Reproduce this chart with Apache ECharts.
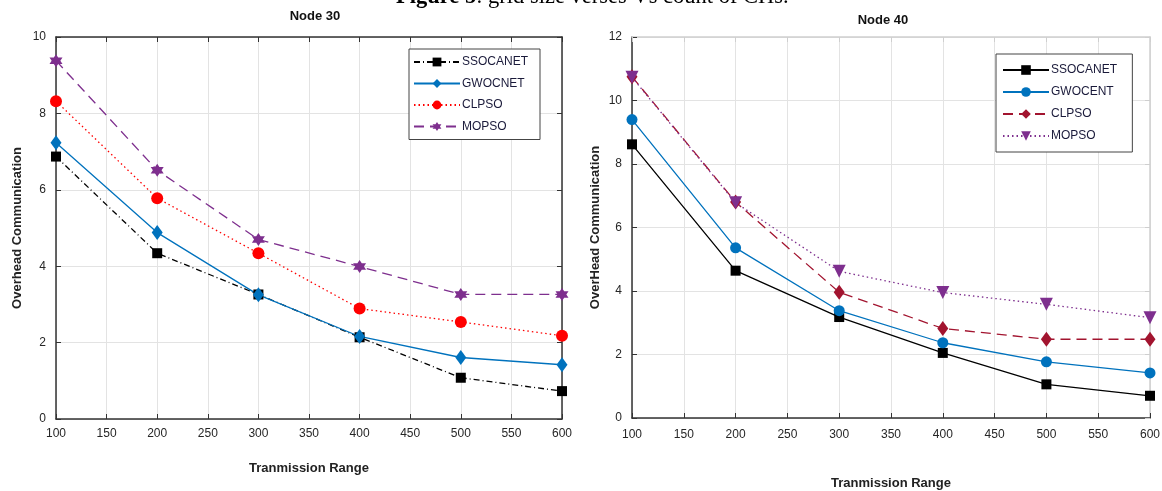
<!DOCTYPE html>
<html>
<head>
<meta charset="utf-8">
<script src="https://cdn.jsdelivr.net/npm/echarts@6/dist/echarts.min.js"></script>
<style>
html,body{margin:0;padding:0;background:#fff;}
#c{width:1162px;height:491px;}
</style>
</head>
<body>
<div id="c"></div>
<script>
// ---- data ----
const ranges = [100, 200, 300, 400, 500, 600];
const xTicks = [100, 150, 200, 250, 300, 350, 400, 450, 500, 550, 600];

// Node 30
const n30_SSOCANET = [6.87, 4.34, 3.26, 2.14, 1.08, 0.73];
const n30_GWOCNET  = [7.23, 4.88, 3.25, 2.16, 1.61, 1.42];
const n30_CLPSO    = [8.32, 5.78, 4.34, 2.89, 2.54, 2.18];
const n30_MOPSO    = [9.38, 6.51, 4.70, 3.99, 3.26, 3.26];

// Node 40
const n40_SSOCANET = [8.62, 4.64, 3.18, 2.05, 1.06, 0.70];
const n40_GWOCENT  = [9.40, 5.36, 3.38, 2.37, 1.77, 1.42];
const n40_CLPSO    = [10.75, 6.80, 3.96, 2.82, 2.48, 2.48];
const n40_MOPSO    = [10.73, 6.78, 4.62, 3.95, 3.58, 3.16];

const titles = ['Node 30', 'Node 40'];
const xName = 'Tranmission Range';
const yNames = ['Overhead Communication', 'OverHead Communication'];
const caption = 'grid size verses Vs count of CHs.';
const captionBold = 'Figure 5';

const pair = arr => arr.map((v, i) => [ranges[i], v]);

const hexagram = 'path://M0,-10 L2.9,-5 L8.66,-5 L5.8,0 L8.66,5 L2.9,5 L0,10 L-2.9,5 L-8.66,5 L-5.8,0 L-8.66,-5 L-2.9,-5 Z';

const chart = echarts.init(document.getElementById('c'));
const lblFont = {fontFamily: 'Liberation Sans, Arial, sans-serif', fontSize: 12, color: '#262626'};
const nameFont = {fontFamily: 'Liberation Sans, Arial, sans-serif', fontSize: 13, fontWeight: 'bold', color: '#222'};

function mkX(gi, bottomName, nameGap, boxColor, labelMargin) {
  return [
    {gridIndex: gi, type: 'value', min: 100, max: 600, interval: 50, position: 'bottom',
     name: bottomName, nameLocation: 'middle', nameGap: nameGap, nameTextStyle: nameFont,
     axisLine: {onZero: false, lineStyle: {color: '#333', width: 1.5}},
     axisTick: {inside: true, length: 5, lineStyle: {color: '#333'}},
     axisLabel: Object.assign({margin: labelMargin}, lblFont),
     splitLine: {show: true, lineStyle: {color: '#e3e3e3', width: 1}}},
    {gridIndex: gi, type: 'value', min: 100, max: 600, interval: 50, position: 'top',
     axisLine: {onZero: false, lineStyle: {color: boxColor, width: 1.5}},
     axisTick: {inside: true, length: 5, lineStyle: {color: boxColor}},
     axisLabel: {show: false}, splitLine: {show: false}}
  ];
}
function mkY(gi, max, yName, nameGap, boxColor) {
  return [
    {gridIndex: gi, type: 'value', min: 0, max: max, interval: 2, position: 'left',
     name: yName, nameLocation: 'middle', nameGap: nameGap, nameTextStyle: nameFont,
     axisLine: {show: true, onZero: false, lineStyle: {color: '#333', width: 1.5}},
     axisTick: {show: true, inside: true, length: 5, lineStyle: {color: '#333'}},
     axisLabel: Object.assign({margin: 10}, lblFont),
     splitLine: {show: true, lineStyle: {color: '#e3e3e3', width: 1}}},
    {gridIndex: gi, type: 'value', min: 0, max: max, interval: 2, position: 'right',
     axisLine: {show: true, onZero: false, lineStyle: {color: boxColor, width: 1.5}},
     axisTick: {show: true, inside: true, length: 5, lineStyle: {color: boxColor}},
     axisLabel: {show: false}, splitLine: {show: false}}
  ];
}

function ser(name, xi, yi, data, color, type, symbol, size, width) {
  return {name: name, type: 'line', xAxisIndex: xi, yAxisIndex: yi, data: pair(data),
    symbol: symbol, symbolSize: size, itemStyle: {color: color},
    lineStyle: {color: color, type: type, width: width || 1.3}, z: 3};
}

const option = {
  animation: false,
  backgroundColor: '#fff',
  title: [
    {text: titles[0], left: 310, top: 5, textAlign: 'center',
     textStyle: {fontFamily: 'Liberation Sans, Arial', fontSize: 13, fontWeight: 'bold', color: '#111'}},
    {text: titles[1], left: 878, top: 9, textAlign: 'center',
     textStyle: {fontFamily: 'Liberation Sans, Arial', fontSize: 13, fontWeight: 'bold', color: '#111'}}
  ],
  graphic: [{
    type: 'text', left: 396, top: -14,
    style: {
      text: '{b|' + captionBold + '}: ' + caption,
      font: '22.5px "Liberation Serif", "Times New Roman", serif',
      fill: '#000',
      rich: {b: {fontWeight: 'bold', fontFamily: 'Liberation Serif', fontSize: 22.5, fill: '#000'}}
    }
  }],
  grid: [
    {left: 56, right: 600, top: 37, bottom: 72, outerBoundsMode: 'none', containLabel: false},
    {left: 632, right: 12, top: 37, bottom: 73, outerBoundsMode: 'none', containLabel: false}
  ],
  xAxis: mkX(0, xName, 43, '#333', 9).concat(mkX(1, xName, 59, '#cfcfcf', 11)),
  yAxis: mkY(0, 10, yNames[0], 32, '#333').concat(mkY(1, 12, yNames[1], 30, '#cfcfcf')),
  legend: [
    {orient: 'vertical', left: 409, top: 49, itemWidth: 46, itemHeight: 11, itemGap: 9.5,
     padding: [7, 12, 7, 4], backgroundColor: '#fff', borderColor: '#444', borderWidth: 1,
     textStyle: {fontFamily: 'Liberation Sans, Arial', fontSize: 12, color: '#1a1a3a', padding: [0, 0, 0, -3]},
     data: ['SSOCANET', 'GWOCNET', 'CLPSO', 'MOPSO']},
    {orient: 'vertical', left: 996, top: 54, itemWidth: 46, itemHeight: 12, itemGap: 10,
     padding: [10, 12, 10, 6], backgroundColor: '#fff', borderColor: '#444', borderWidth: 1,
     textStyle: {fontFamily: 'Liberation Sans, Arial', fontSize: 12, color: '#1a1a3a', padding: [0, 0, 0, -3]},
     data: ['SSOCANET ', 'GWOCENT', 'CLPSO ', 'MOPSO ']}
  ],
  series: [
    ser('SSOCANET', 0, 0, n30_SSOCANET, '#000000', [6, 3, 1, 3], 'rect', 10),
    ser('GWOCNET', 0, 0, n30_GWOCNET, '#0072BD', 'solid', 'diamond', [11, 15]),
    ser('CLPSO', 0, 0, n30_CLPSO, '#FF0000', [1.5, 3], 'circle', 12),
    ser('MOPSO', 0, 0, n30_MOPSO, '#7E2F8E', [10, 6], hexagram, 13),
    ser('SSOCANET ', 2, 2, n40_SSOCANET, '#000000', 'solid', 'rect', 10),
    ser('GWOCENT', 2, 2, n40_GWOCENT, '#0072BD', 'solid', 'circle', 11),
    ser('CLPSO ', 2, 2, n40_CLPSO, '#A2142F', [10, 6], 'diamond', [11, 15]),
    ser('MOPSO ', 2, 2, n40_MOPSO, '#7E2F8E', [1.5, 3], 'triangle', 13)
  ]
};
// triangle down for MOPSO node 40
option.series[7].symbolRotate = 180;
chart.setOption(option);
</script>
</body>
</html>
